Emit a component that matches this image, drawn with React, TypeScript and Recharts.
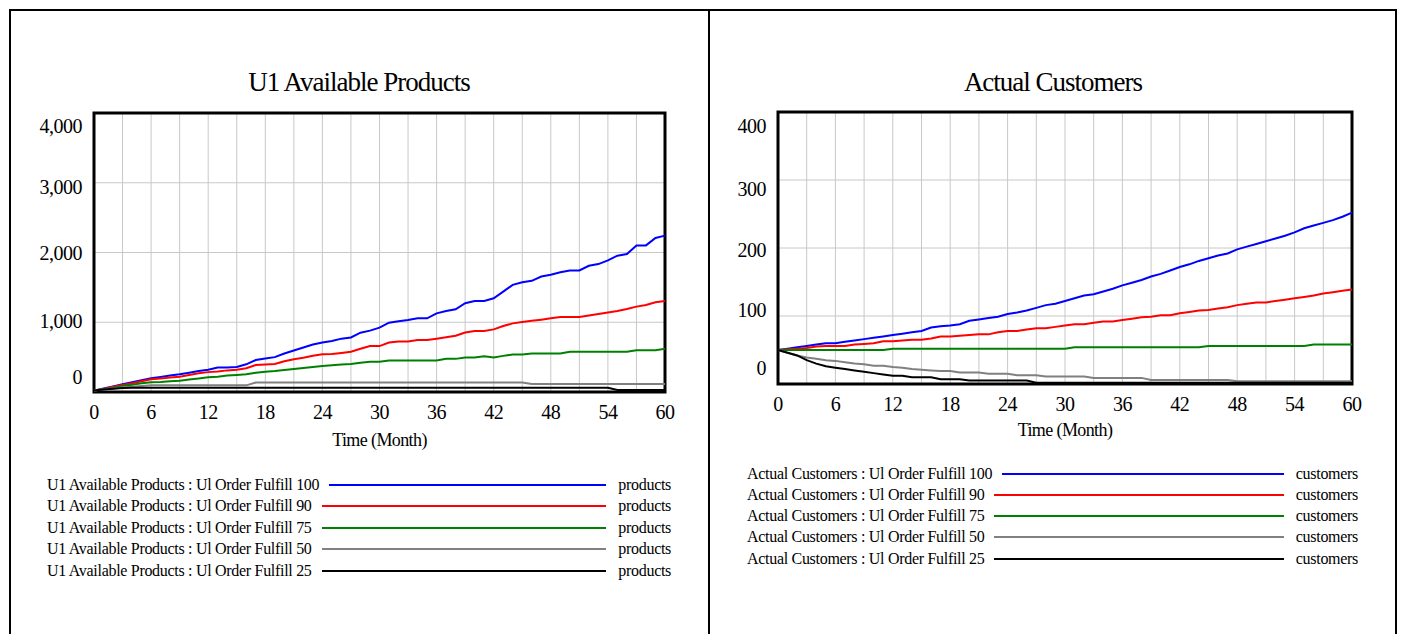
import React from 'react';
import { LineChart, Line, XAxis, YAxis, CartesianGrid, ReferenceArea } from 'recharts';

// month axis (categories)
const MONTHS = Array.from({ length: 61 }, (_, i) => i);
const X_GRID_TICKS = [0, 3, 6, 9, 12, 15, 18, 21, 24, 27, 30, 33, 36, 39, 42, 45, 48, 51, 54, 57, 60];
const X_LABELS = [0, 6, 12, 18, 24, 30, 36, 42, 48, 54, 60];

const RUNS = ['Ul Order Fulfill 100', 'Ul Order Fulfill 90', 'Ul Order Fulfill 75', 'Ul Order Fulfill 50', 'Ul Order Fulfill 25'];
const RUN_COLORS = ['#0000ff', '#ff0000', '#008000', '#808080', '#000000'];

// U1 Available Products (products)
const PRODUCTS_100 = [20, 50, 80, 110, 140, 170, 196, 215, 235, 253, 275, 300, 320, 350, 352, 360, 397, 459, 480, 500, 552, 595, 638, 680, 710, 730, 765, 782, 850, 880, 922, 994, 1015, 1032, 1056, 1056, 1128, 1162, 1186, 1272, 1306, 1306, 1344, 1440, 1536, 1574, 1594, 1656, 1680, 1718, 1742, 1742, 1810, 1834, 1886, 1954, 1978, 2102, 2102, 2208, 2242];
const PRODUCTS_90 = [20, 45, 75, 100, 125, 155, 182, 195, 208, 220, 245, 268, 285, 295, 310, 320, 340, 387, 395, 401, 440, 469, 490, 520, 540, 545, 560, 578, 620, 658, 658, 710, 725, 725, 744, 744, 763, 785, 806, 854, 874, 874, 898, 946, 984, 1003, 1020, 1037, 1056, 1075, 1075, 1075, 1097, 1118, 1140, 1162, 1190, 1224, 1248, 1286, 1306];
const PRODUCTS_75 = [20, 40, 60, 85, 105, 125, 139, 145, 155, 162, 180, 195, 210, 220, 235, 245, 253, 275, 291, 300, 315, 330, 345, 360, 373, 385, 395, 401, 420, 435, 435, 451, 451, 451, 451, 451, 451, 475, 475, 494, 494, 514, 494, 518, 538, 538, 552, 552, 552, 552, 576, 576, 576, 576, 576, 576, 576, 600, 600, 600, 619];
const PRODUCTS_50 = [20, 35, 50, 65, 75, 85, 95, 95, 95, 95, 95, 95, 95, 95, 95, 95, 95, 135, 135, 135, 135, 135, 135, 135, 135, 135, 135, 135, 135, 135, 135, 135, 135, 135, 135, 135, 135, 135, 135, 135, 135, 135, 135, 135, 135, 135, 115, 115, 115, 115, 115, 115, 115, 115, 115, 115, 115, 115, 115, 115, 115];
const PRODUCTS_25 = [20, 35, 48, 58, 62, 62, 62, 62, 62, 62, 62, 62, 62, 62, 62, 62, 62, 62, 62, 62, 62, 62, 62, 62, 62, 62, 62, 62, 62, 62, 62, 62, 62, 62, 62, 62, 62, 62, 62, 62, 62, 62, 62, 62, 62, 62, 62, 62, 62, 62, 62, 62, 62, 62, 62, 28, 28, 28, 28, 28, 28];
const PRODUCTS_Y_TICKS = [0, 1000, 2000, 3000, 4000];

// Actual Customers (customers)
const CUSTOMERS_100 = [50, 52, 54, 56, 58, 60, 60, 62, 64, 66, 68, 70, 72, 74, 76, 78, 83, 85, 86, 88, 93, 95, 97, 99, 103, 105, 108, 112, 116, 118, 122, 126, 130, 132, 136, 140, 145, 149, 153, 158, 162, 167, 172, 176, 181, 185, 189, 192, 198, 202, 206, 210, 214, 218, 223, 229, 233, 237, 241, 246, 252];
const CUSTOMERS_90 = [50, 51, 52, 53, 55, 56, 56, 56, 58, 59, 60, 63, 63, 64, 65, 65, 67, 70, 70, 71, 72, 73, 73, 76, 78, 78, 80, 82, 82, 84, 86, 88, 88, 90, 92, 92, 94, 96, 98, 99, 101, 101, 104, 106, 108, 109, 111, 113, 116, 118, 120, 120, 122, 124, 126, 128, 130, 133, 135, 137, 139];
const CUSTOMERS_75 = [50, 50, 50, 50, 50, 50, 50, 50, 50, 50, 50, 50, 52, 52, 52, 52, 52, 52, 52, 52, 52, 52, 52, 52, 52, 52, 52, 52, 52, 52, 52, 54, 54, 54, 54, 54, 54, 54, 54, 54, 54, 54, 54, 54, 54, 56, 56, 56, 56, 56, 56, 56, 56, 56, 56, 56, 58, 58, 58, 58, 58];
const CUSTOMERS_50 = [50, 46, 42, 39, 37, 35, 34, 32, 30, 29, 27, 27, 25, 24, 22, 21, 20, 19, 19, 17, 17, 17, 15, 15, 15, 13, 13, 13, 11, 11, 11, 11, 11, 9, 9, 9, 9, 9, 9, 6, 6, 6, 6, 6, 6, 6, 6, 6, 4, 4, 4, 4, 4, 4, 4, 4, 4, 4, 4, 4, 4];
const CUSTOMERS_25 = [50, 46, 42, 35, 30, 26, 24, 22, 20, 18, 16, 14, 12, 12, 10, 10, 10, 7, 7, 7, 5, 5, 5, 5, 5, 5, 5, 2, 2, 2, 2, 2, 2, 2, 2, 2, 2, 2, 2, 2, 2, 2, 2, 2, 2, 2, 2, 2, 2, 2, 2, 2, 2, 2, 2, 2, 2, 2, 2, 2, 2];
const CUSTOMERS_Y_TICKS = [0, 100, 200, 300, 400];

const FONT = '"Liberation Serif", "Times New Roman", serif';
const KEYS = ['r100', 'r90', 'r75', 'r50', 'r25'];

const buildRows = (series: number[][]) =>
    MONTHS.map((t, i) => {
        const row: Record<string, number> = { t };
        series.forEach((s, k) => { row[KEYS[k]] = s[i]; });
        return row;
    });

interface PanelProps {
    title: string;
    variable: string;
    unit: string;
    series: number[][];
    yTicks: number[];
    yLabelShift: number[];
    panelLeft: number;
    panelWidth: number;
    chart: { left: number; top: number; width: number; height: number; yAxisWidth: number; right: number; marginTop: number; xAxisHeight: number };
    legend: { left: number; top: number; width: number; rowHeight: number };
}

const Panel: React.FC<PanelProps> = ({ title, variable, unit, series, yTicks, yLabelShift, panelLeft, panelWidth, chart, legend }) => {
    const data = buildRows(series);
    const yMax = yTicks[yTicks.length - 1];

    const XTick = ({ x, y, payload }: any) => {
        if (!X_LABELS.includes(payload.value)) return null;
        return (
            <text x={x} y={y + 12} textAnchor="middle" dominantBaseline="central" fontSize={20} letterSpacing={-0.5} fill="#000" fontFamily={FONT}>
                {payload.value}
            </text>
        );
    };

    const YTick = ({ x, y, payload }: any) => {
        const idx = yTicks.indexOf(payload.value);
        return (
            <text x={x - 4} y={y + (yLabelShift[idx] ?? 0)} textAnchor="end" dominantBaseline="central" fontSize={20} letterSpacing={-0.5} fill="#000" fontFamily={FONT}>
                {payload.value.toLocaleString('en-US')}
            </text>
        );
    };

    return (
        <>
            <div style={{ position: 'absolute', left: panelLeft, top: 64, width: panelWidth, textAlign: 'center', fontFamily: FONT, fontSize: 27, letterSpacing: -1, lineHeight: '36px', color: '#000' }}>
                {title}
            </div>
            <div style={{ position: 'absolute', left: chart.left, top: chart.top }}>
                <LineChart
                    width={chart.width}
                    height={chart.height}
                    data={data}
                    margin={{ top: chart.marginTop, right: chart.right, bottom: 0, left: 0 }}
                    style={{ fontFamily: FONT }}
                >
                    <CartesianGrid stroke="#c8c8c8" strokeWidth={1} />
                    <XAxis
                        dataKey="t"
                        type="number"
                        domain={[0, 60]}
                        ticks={X_GRID_TICKS}
                        interval={0}
                        height={chart.xAxisHeight}
                        axisLine={false}
                        tickLine={false}
                        tick={<XTick />}
                        label={{ value: 'Time (Month)', position: 'insideBottom', offset: 4, fontSize: 18, letterSpacing: -0.6, fill: '#000', fontFamily: FONT }}
                    />
                    <YAxis
                        type="number"
                        domain={[0, yMax]}
                        ticks={yTicks}
                        interval={0}
                        width={chart.yAxisWidth}
                        axisLine={false}
                        tickLine={false}
                        tick={<YTick />}
                    />
                    {series.map((_, k) => (
                        <Line
                            key={KEYS[k]}
                            type="linear"
                            dataKey={KEYS[k]}
                            stroke={RUN_COLORS[k]}
                            strokeWidth={2}
                            dot={false}
                            activeDot={false}
                            isAnimationActive={false}
                        />
                    ))}
                    <ReferenceArea x1={0} x2={60} y1={0} y2={yMax} fill="none" stroke="#000" strokeWidth={3} ifOverflow="visible" />
                </LineChart>
            </div>
            <div style={{ position: 'absolute', left: legend.left, top: legend.top, width: legend.width, fontFamily: FONT, fontSize: 16, letterSpacing: -0.3, color: '#000' }}>
                {RUNS.map((run, k) => (
                    <div key={run} style={{ display: 'flex', alignItems: 'center', height: legend.rowHeight }}>
                        <span style={{ whiteSpace: 'nowrap' }}>{variable} : {run}</span>
                        <span style={{ flex: 1, height: 2, background: RUN_COLORS[k], margin: '0 12px 0 10px' }} />
                        <span style={{ whiteSpace: 'nowrap' }}>{unit}</span>
                    </div>
                ))}
            </div>
        </>
    );
};

const App: React.FC = () => {
    return (
        <div style={{ position: 'absolute', left: 0, top: 0, width: 1402, height: 634, overflow: 'hidden', background: '#fff' }}>
            <div style={{ position: 'absolute', left: 9, top: 9, width: 1388, height: 660, border: '2px solid #000', boxSizing: 'border-box' }} />
            <div style={{ position: 'absolute', left: 708, top: 9, width: 2, height: 660, background: '#000' }} />
            <Panel
                title="U1 Available Products"
                variable="U1 Available Products"
                unit="products"
                series={[PRODUCTS_100, PRODUCTS_90, PRODUCTS_75, PRODUCTS_50, PRODUCTS_25]}
                yTicks={PRODUCTS_Y_TICKS}
                yLabelShift={[-15, -1, 0, 4, 13]}
                panelLeft={10}
                panelWidth={698}
                chart={{ left: 10, top: 10, width: 690, height: 440, yAxisWidth: 84, right: 35, marginTop: 103, xAxisHeight: 58 }}
                legend={{ left: 47, top: 474, width: 624, rowHeight: 21.5 }}
            />
            <Panel
                title="Actual Customers"
                variable="Actual Customers"
                unit="customers"
                series={[CUSTOMERS_100, CUSTOMERS_90, CUSTOMERS_75, CUSTOMERS_50, CUSTOMERS_25]}
                yTicks={CUSTOMERS_Y_TICKS}
                yLabelShift={[-16, -6, 2, 9, 14]}
                panelLeft={710}
                panelWidth={686}
                chart={{ left: 712, top: 10, width: 680, height: 430, yAxisWidth: 66, right: 40, marginTop: 102, xAxisHeight: 56 }}
                legend={{ left: 747, top: 463, width: 611, rowHeight: 21.25 }}
            />
        </div>
    );
};

export default App;
